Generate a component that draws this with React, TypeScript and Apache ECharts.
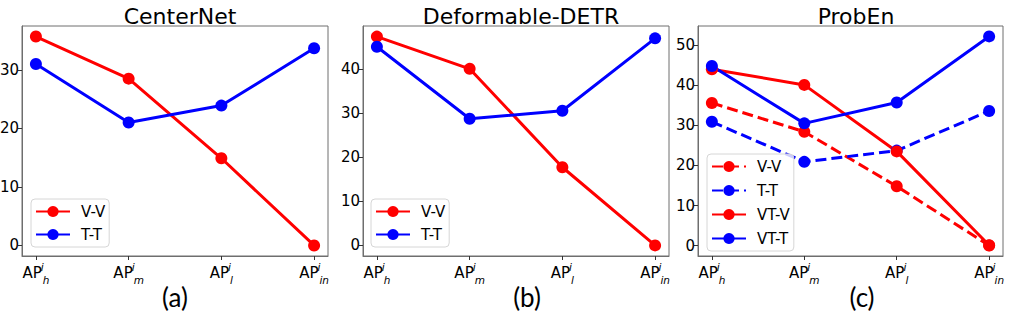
import React, { useEffect, useRef } from "react";
import * as echarts from "echarts";

const xPositions = [0, 1, 2, 3];
const xSubs = ["h", "m", "l", "in"];

const centerNetVV = [35.7, 28.5, 14.9, 0];
const centerNetTT = [31.0, 21.0, 23.9, 33.7];

const detrVV = [47.3, 40.0, 17.7, 0];
const detrTT = [45.0, 28.7, 30.5, 46.9];

const probEnVV = [35.6, 28.4, 14.8, 0];
const probEnTT = [30.9, 20.9, 23.7, 33.6];
const probEnVTV = [44.0, 40.1, 23.5, 0.1];
const probEnVTT = [44.8, 30.5, 35.7, 52.2];

const yTicks1 = [0, 10, 20, 30];
const yTicks2 = [0, 10, 20, 30, 40];
const yTicks3 = [0, 10, 20, 30, 40, 50];

const RED = "#ff0000";
const BLUE = "#0000ff";
const FONT = "DejaVu Sans";
const FRAME = "#6e6e6e";

type S = { name: string; values: number[]; color: string; dashed?: boolean };

function makeOption(p: {
  title: string;
  caption: string;
  captionX: number;
  gridLeft: number;
  gridWidth: number;
  yTicks: number[];
  series: S[];
  legendLeft: number;
  legendTop: number;
  legendGap: number;
}) {
  let maxV = 0;
  let minV = Infinity;
  p.series.forEach((s) => s.values.forEach((v) => { maxV = Math.max(maxV, v); minV = Math.min(minV, v); }));
  const range = maxV - minV;
  const yMin = Math.round((minV - range * 0.05) * 10) / 10;
  const yMax = Math.round((maxV + range * 0.05) * 10) / 10;
  return {
    animation: false,
    title: [
      {
        text: p.title,
        left: p.gridLeft + Math.round(p.gridWidth / 2),
        top: 0,
        textAlign: "center",
        textStyle: { fontFamily: FONT, fontSize: 22, fontWeight: "normal", color: "#000" },
      },
      {
        text: p.caption,
        left: p.captionX,
        top: 279,
        textAlign: "center",
        textStyle: { fontFamily: "Lato", fontSize: 26, fontWeight: "normal", color: "#000" },
      },
    ],
    grid: {
      left: p.gridLeft,
      top: 26,
      width: p.gridWidth,
      height: 230,
      show: true,
      borderColor: FRAME,
      borderWidth: 1,
      outerBoundsMode: "none",
    },
    legend: {
      orient: "vertical",
      left: p.legendLeft,
      top: p.legendTop,
      data: p.series.map((s) => s.name),
      itemWidth: 34,
      itemHeight: 14,
      itemGap: p.legendGap,
      padding: [5, 4, 5, 4],
      backgroundColor: "rgba(255,255,255,0.8)",
      borderColor: "#d6d6d6",
      borderWidth: 1,
      borderRadius: 4,
      selectedMode: false,
      textStyle: { fontFamily: FONT, fontSize: 15, color: "#000", padding: [0, 0, 0, 6] },
    },
    xAxis: {
      type: "value",
      min: -0.15,
      max: 3.15,
      axisLine: { show: true, onZero: false, lineStyle: { color: FRAME, width: 1 } },
      splitLine: { show: false },
      axisTick: { show: true, length: 4, customValues: xPositions, lineStyle: { color: "#333" } },
      axisLabel: {
        customValues: xPositions,
        margin: 5,
        formatter: (v: number) => `{b|AP}{sup|i}{sub|${xSubs[Math.round(v)]}}`,
        rich: {
          b: { fontFamily: FONT, fontSize: 15, color: "#000", lineHeight: 24, verticalAlign: "middle" },
          sup: { fontFamily: FONT, fontSize: 10.5, fontStyle: "italic", color: "#000", width: 1, verticalAlign: "top", lineHeight: 12 },
          sub: { fontFamily: FONT, fontSize: 10.5, fontStyle: "italic", color: "#000", verticalAlign: "bottom", lineHeight: 12 },
        },
      },
    },
    yAxis: {
      type: "value",
      min: yMin,
      max: yMax,
      axisLine: { show: true, onZero: false, lineStyle: { color: FRAME, width: 1 } },
      splitLine: { show: false },
      axisTick: { show: true, length: 4, customValues: p.yTicks, lineStyle: { color: "#333" } },
      axisLabel: {
        customValues: p.yTicks,
        margin: 3,
        fontFamily: FONT,
        fontSize: 15,
        color: "#000",
        formatter: (v: number) => String(v),
      },
    },
    series: p.series.map((s) => ({
      name: s.name,
      type: "line",
      data: s.values.map((v, i) => [xPositions[i], v]),
      symbol: "circle",
      symbolSize: 12,
      color: s.color,
      lineStyle: { width: 3, type: s.dashed ? [11, 5] : "solid" },
    })),
  };
}

const panels = [
  {
    divLeft: 0,
    width: 336,
    opt: {
      title: "CenterNet",
      caption: "(a)",
      captionX: 170,
      gridLeft: 22,
      gridWidth: 306,
      yTicks: yTicks1,
      legendLeft: 31,
      legendTop: 199,
      legendGap: 8,
      series: [
        { name: "V-V", values: centerNetVV, color: RED },
        { name: "T-T", values: centerNetTT, color: BLUE },
      ],
    },
  },
  {
    divLeft: 336,
    width: 338,
    opt: {
      title: "Deformable-DETR",
      caption: "(b)",
      captionX: 186,
      gridLeft: 27,
      gridWidth: 306,
      yTicks: yTicks2,
      legendLeft: 35,
      legendTop: 199,
      legendGap: 8,
      series: [
        { name: "V-V", values: detrVV, color: RED },
        { name: "T-T", values: detrTT, color: BLUE },
      ],
    },
  },
  {
    divLeft: 674,
    width: 340,
    opt: {
      title: "ProbEn",
      caption: "(c)",
      captionX: 183,
      gridLeft: 24,
      gridWidth: 305,
      yTicks: yTicks3,
      legendLeft: 33,
      legendTop: 154,
      legendGap: 9,
      series: [
        { name: "V-V", values: probEnVV, color: RED, dashed: true },
        { name: "T-T", values: probEnTT, color: BLUE, dashed: true },
        { name: "VT-V", values: probEnVTV, color: RED },
        { name: "VT-T", values: probEnVTT, color: BLUE },
      ],
    },
  },
];

function Panel({ left, width, opt }: { left: number; width: number; opt: any }) {
  const ref = useRef<HTMLDivElement>(null);
  useEffect(() => {
    const chart = echarts.init(ref.current!, undefined, { renderer: "svg" });
    chart.setOption(makeOption(opt));
    return () => chart.dispose();
  }, []);
  return <div ref={ref} style={{ position: "absolute", left, top: 0, width, height: 317 }} />;
}

export default function App() {
  useEffect(() => {
    document.body.style.margin = "0";
  }, []);
  return (
    <div style={{ position: "relative", width: 1014, height: 317, background: "#fff" }}>
      {panels.map((p, i) => (
        <Panel key={i} left={p.divLeft} width={p.width} opt={p.opt} />
      ))}
    </div>
  );
}
